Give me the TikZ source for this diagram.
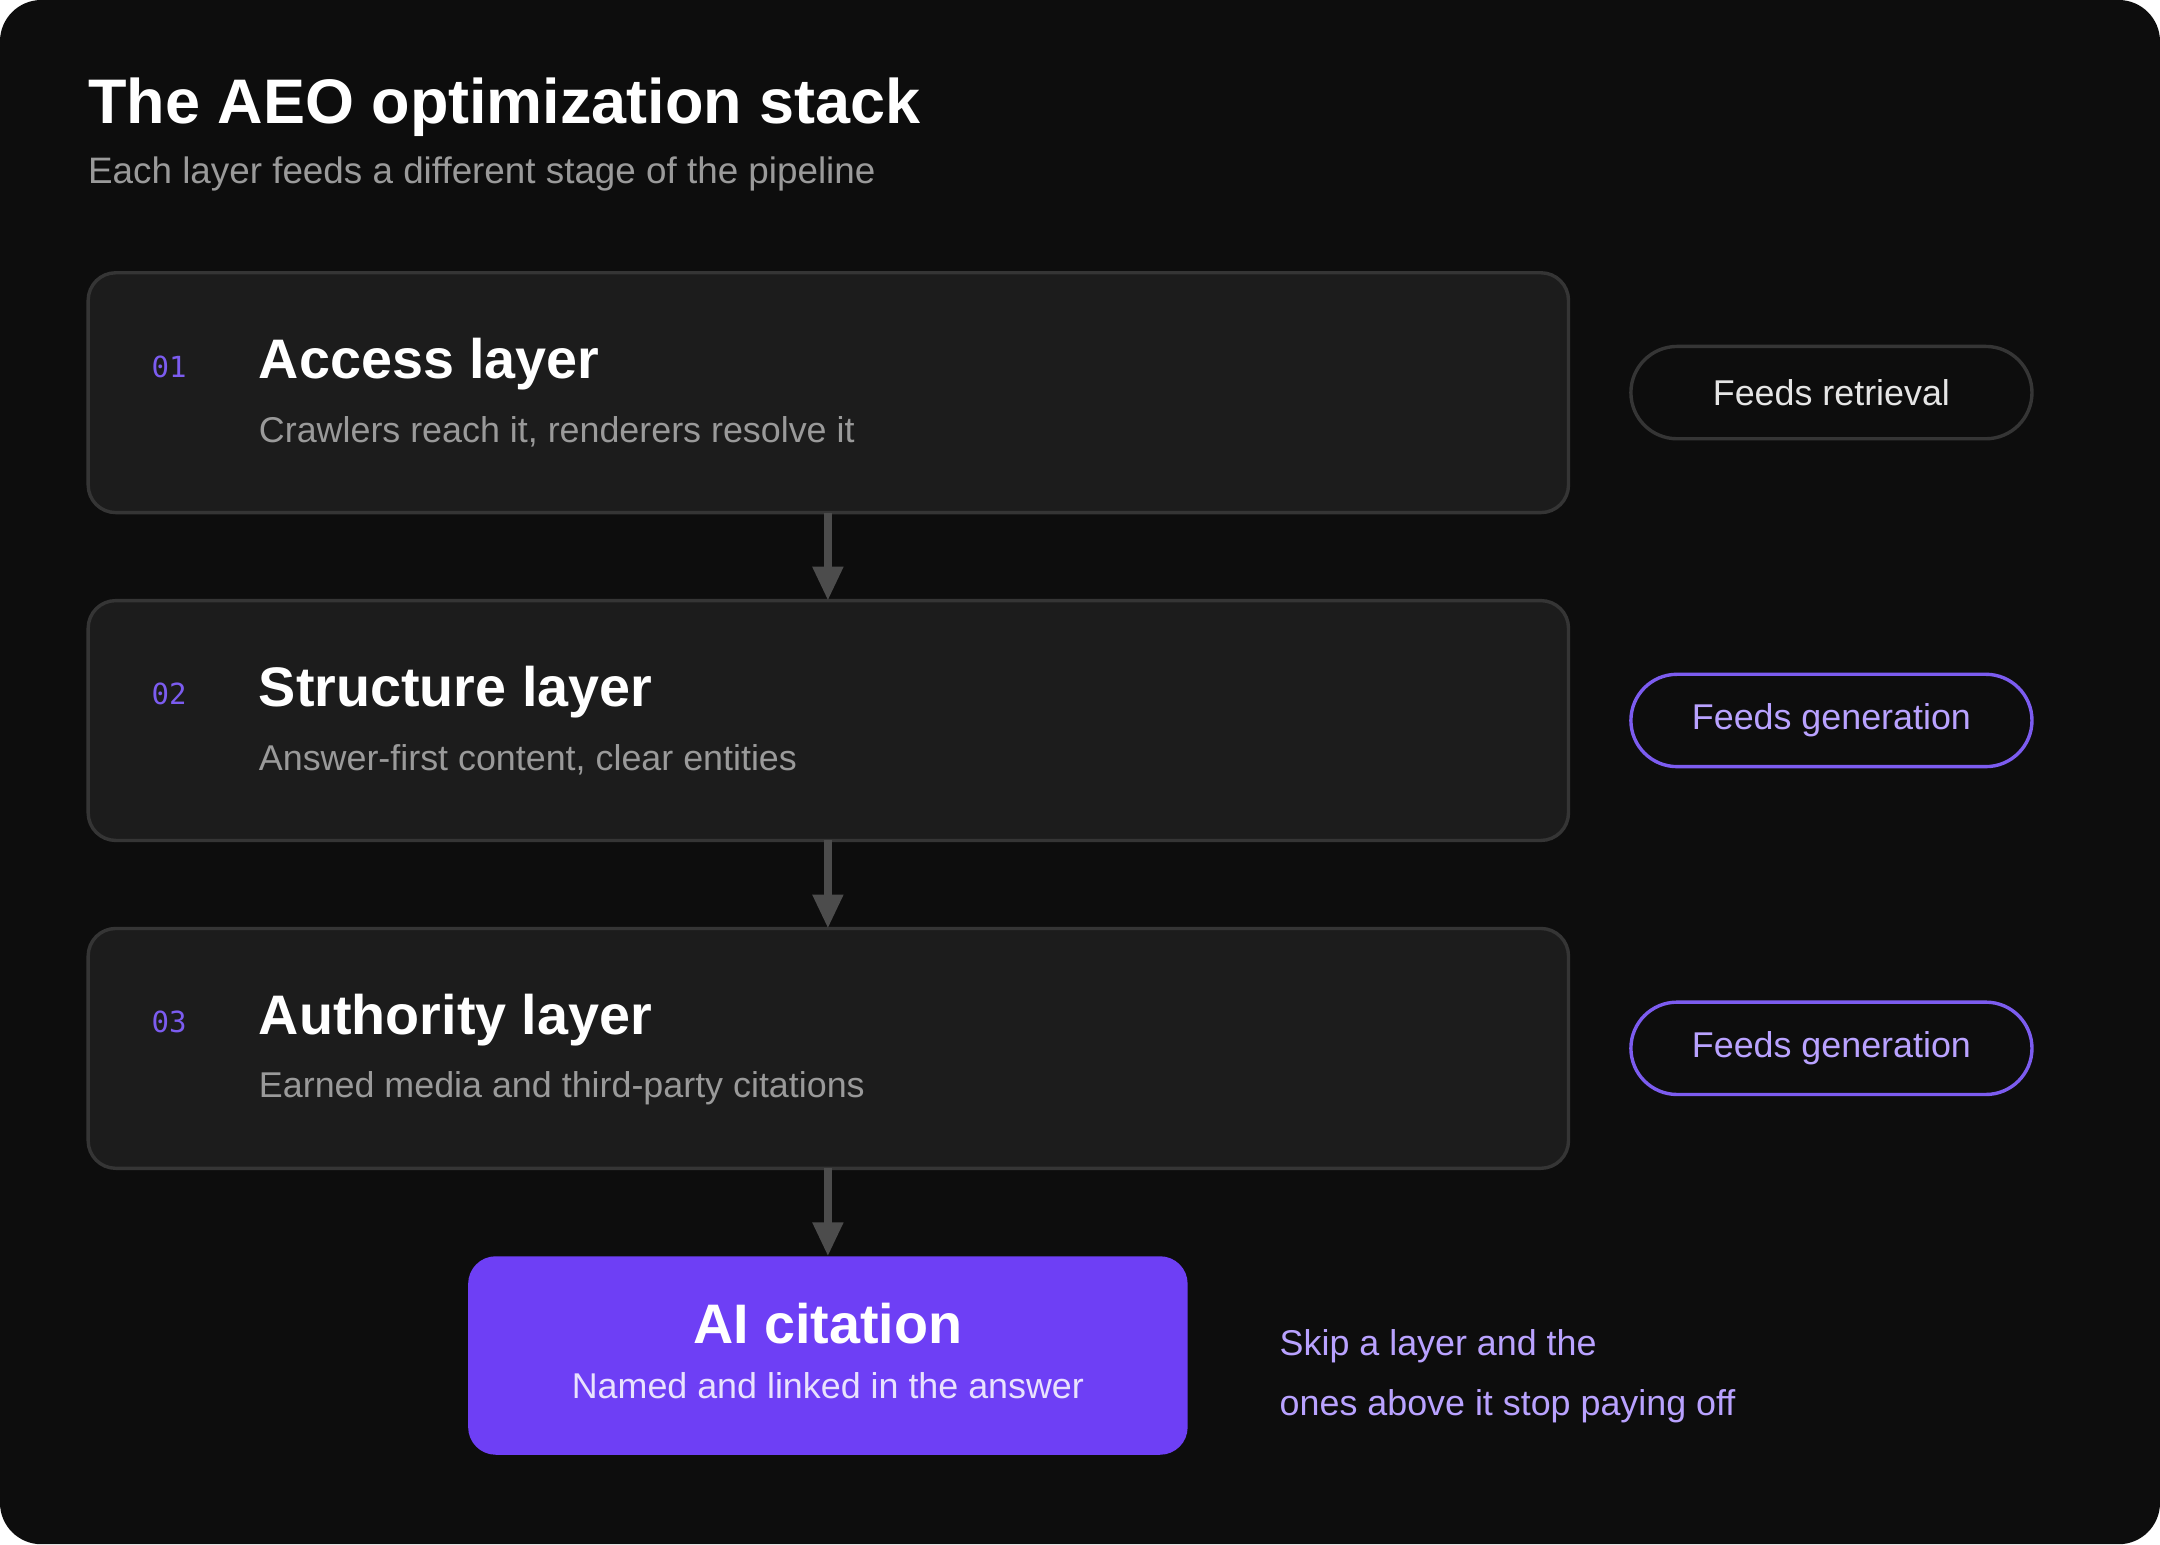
\documentclass[tikz,border=0pt]{standalone}
\usepackage{fontspec}
\setmainfont{Liberation Sans}
\setmonofont{DejaVu Sans Mono}
\usetikzlibrary{arrows.meta,positioning,calc}
\definecolor{bgdark}{HTML}{0D0D0D}
\definecolor{boxfill}{HTML}{1C1C1C}
\definecolor{boxline}{HTML}{353535}
\definecolor{accent}{HTML}{6E3FF5}
\definecolor{lilac}{HTML}{B9A2FF}
\definecolor{numcol}{HTML}{7C5CF0}
\definecolor{softgray}{HTML}{9A9A9A}
\tikzset{
  >=Triangle,
  every node/.append style={inner sep=0pt, outer sep=0pt},
}
\tikzset{
  layer/.style={draw=boxline, line width=0.7pt, fill=boxfill, rounded corners=0.2cm,
    minimum width=10.74cm, minimum height=1.74cm, anchor=north west},
  pill/.style={draw=#1, line width=0.7pt, rounded corners=0.335cm,
    minimum width=2.91cm, minimum height=0.67cm, font=\fontsize{7.4}{9}\selectfont},
  num/.style={text=numcol, font=\ttfamily\fontsize{6}{7}\selectfont, anchor=west},
  head/.style={text=white, font=\bfseries\fontsize{11.5}{13}\selectfont, anchor=base west},
  desc/.style={text=softgray, font=\fontsize{7.4}{9}\selectfont, anchor=base west},
  arrow/.style={-{Triangle[width=6pt,length=7pt]}, draw=gray!60!black, line width=1.6pt}
}
\begin{document}
\begin{tikzpicture}[x=0.01cm, y=-0.01cm]
\fill[white] (0,0) rectangle (1568,1121);
\fill[bgdark, rounded corners=0.3cm] (0,0) rectangle (1568,1121);
\useasboundingbox (0,0) rectangle (1568,1121);

% --- title ---
\node[text=white, font=\bfseries\fontsize{13}{15}\selectfont, anchor=base west] (title) at (64,90) {The AEO optimization stack};
\node[text=softgray, font=\fontsize{7.6}{9}\selectfont, anchor=base west] (subtitle) at (64,133) {Each layer feeds a different stage of the pipeline};

% --- layers ---
\node[layer] (access) at (64,198) {};
\node[layer] (structure) at (64,436) {};
\node[layer] (authority) at (64,674) {};

\node[num] (n1) at (110,266) {01};
\node[head] (h1) at (188,275) {Access layer};
\node[desc] (d1) at (188,321) {Crawlers reach it, renderers resolve it};

\node[num] (n2) at (110,504) {02};
\node[head] (h2) at (188,513) {Structure layer};
\node[desc] (d2) at (188,559) {Answer-first content, clear entities};

\node[num] (n3) at (110,742) {03};
\node[head] (h3) at (188,751) {Authority layer};
\node[desc] (d3) at (188,797) {Earned media and third-party citations};

% --- pills ---
\node[pill=boxline, text=white!90!black] (p1) at (1329.5,285) {Feeds retrieval};
\node[pill=numcol, text=lilac] (p2) at (1329.5,523) {Feeds generation};
\node[pill=numcol, text=lilac] (p3) at (1329.5,761) {Feeds generation};

% --- result ---
\node[fill=accent, rounded corners=0.2cm, minimum width=5.22cm, minimum height=1.44cm] (cite) at (601,984) {};
\node[text=white, font=\bfseries\fontsize{11.5}{13}\selectfont, anchor=base] (ct) at (601,975) {AI citation};
\node[text=white!85!accent, font=\fontsize{7.4}{9}\selectfont, anchor=base] (cs) at (601,1015) {Named and linked in the answer};

\node[text=lilac, font=\fontsize{7.4}{12.3}\selectfont, align=left, anchor=west] (note) at (929,999) {Skip a layer and the\\ones above it stop paying off};

% --- connectors ---
\draw[arrow] (access.south -| cite.north) -- (structure.north -| cite.north);
\draw[arrow] (structure.south -| cite.north) -- (authority.north -| cite.north);
\draw[arrow] (authority.south -| cite.north) -- (cite.north);
\end{tikzpicture}
\end{document}
